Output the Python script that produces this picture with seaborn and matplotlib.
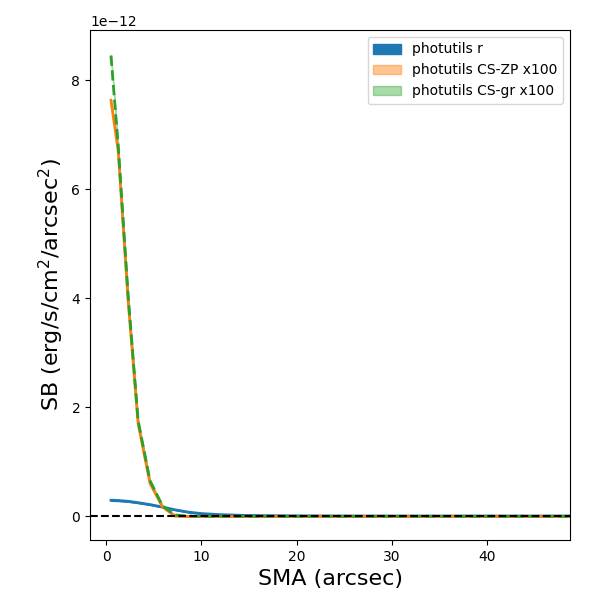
import numpy as np
import pandas as pd
import seaborn as sns
from matplotlib import pyplot as plt

# surface brightness profiles (units of 1e-12 erg/s/cm2/arcsec2)
sma = [0.5, 1.26, 2.3, 3.35, 4.6, 5.9, 7.2, 8.6, 10.0, 12.0, 14.5,
       17.0, 20.0, 24.0, 28.0, 33.0, 38.0, 44.0, 50.0]
sb_r = [0.29, 0.285, 0.27, 0.245, 0.21, 0.165, 0.115, 0.072, 0.045,
        0.025, 0.012, 0.006, 0.003, 0.001, 0.0, 0.0, 0.0, 0.0, 0.0]
sb_zp = [7.63, 6.7, 3.96, 1.7, 0.6, 0.17, 0.0, -0.01, -0.01, -0.01,
         -0.01, -0.01, -0.01, -0.01, -0.01, -0.01, -0.01, -0.01, -0.01]
sb_gr = [8.45, 6.8, 4.05, 1.75, 0.65, 0.19, 0.02, 0.0, -0.005, -0.005,
         -0.005, -0.005, -0.005, -0.005, -0.005, -0.005, -0.005, -0.005, -0.005]
err_r = [0.01, 0.01, 0.008, 0.008, 0.006, 0.005, 0.004, 0.003, 0.002,
         0.001, 0.001, 0.001, 0.001, 0.001, 0.001, 0.001, 0.001, 0.001, 0.001]

x = np.array(sma)
r = np.array(sb_r) * 1e-12
zp = np.array(sb_zp) * 1e-12
gr = np.array(sb_gr) * 1e-12
er = np.array(err_r) * 1e-12

df = pd.DataFrame({'sma': x, 'r': r, 'zp': zp, 'gr': gr})

fig, ax = plt.subplots(figsize=(6, 6), dpi=100)
fig.subplots_adjust(left=0.15, right=0.95, top=0.95, bottom=0.1)

# error bands (these make the legend patches)
ax.fill_between(x, r - er, r + er, color='#1f77b4', alpha=1.0, label='photutils r')
ax.fill_between(x, zp - er, zp + er, color='#ff7f0e', alpha=0.45, label='photutils CS-ZP x100')
ax.fill_between(x, gr - er, gr + er, color='#2ca02c', alpha=0.4, label='photutils CS-gr x100')

sns.lineplot(data=df, x='sma', y='r', color='#1f77b4', lw=2, ax=ax)
sns.lineplot(data=df, x='sma', y='zp', color='#ff7f0e', lw=2, ax=ax)
sns.lineplot(data=df, x='sma', y='gr', color='#2ca02c', lw=2, ls='--', ax=ax)

ax.axhline(0, color='k', ls='--', lw=1.5)

ax.set_xlim(-1.7, 48.7)
ax.set_ylim(-0.44e-12, 8.92e-12)
ax.set_xlabel('SMA (arcsec)', fontsize=16)
ax.set_ylabel(r'SB (erg/s/cm$^2$/arcsec$^2$)', fontsize=16)
ax.legend(loc='upper right')

fig.savefig('out.png', dpi=100)
